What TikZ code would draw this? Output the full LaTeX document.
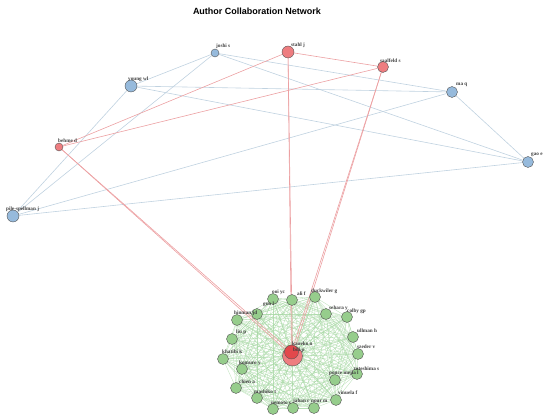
\documentclass[tikz,border=0pt]{standalone}
\usepackage{fontspec}
\setmainfont{Liberation Serif}
\newfontfamily\titlefont{Liberation Sans}
\usetikzlibrary{backgrounds}

\definecolor{bluenode}{RGB}{150,186,220}
\definecolor{rednode}{RGB}{238,125,128}
\definecolor{reddark}{RGB}{226,72,76}
\definecolor{greennode}{RGB}{150,205,140}
\definecolor{blueedge}{RGB}{192,210,224}
\definecolor{rededge}{RGB}{236,160,162}
\definecolor{greenedge}{RGB}{165,215,162}
\definecolor{outline}{RGB}{85,85,85}

\begin{document}
\begin{tikzpicture}[x=1pt, y=-1pt,
  author/.style={circle, draw=outline, line width=0.4pt, inner sep=0pt},
  lbl/.style={font=\fontsize{5.2}{6}\selectfont\bfseries, text=black!75, inner sep=0pt, anchor=west},
  bluelink/.style={draw=blueedge, line width=0.6pt},
  redlink/.style={draw=rededge, line width=0.6pt},
  greenlink/.style={draw=greenedge, line width=0.35pt, opacity=0.75}]

\useasboundingbox (0,0) rectangle (550,419);

\node [font=\titlefont\fontsize{9}{10}\selectfont\bfseries] (title) at (257,11) {Author Collaboration Network};

% top group
\node [author, fill=bluenode, minimum size=8pt] (joshi) at (215,53) {};
\node [author, fill=rednode, minimum size=12pt] (stahl) at (288,52) {};
\node [author, fill=rednode, minimum size=11pt] (saalfeld) at (383,67) {};
\node [author, fill=bluenode, minimum size=11pt] (ma) at (452,92) {};
\node [author, fill=bluenode, minimum size=11pt] (gao) at (528,162) {};
\node [author, fill=bluenode, minimum size=12pt] (young) at (131,86) {};
\node [author, fill=rednode, minimum size=8pt] (behme) at (59,147) {};
\node [author, fill=bluenode, minimum size=12pt] (pile) at (13,216) {};

% cluster
\node [author, fill=greennode, minimum size=11pt] (ooi) at (273,299) {};
\node [author, fill=greennode, minimum size=11pt] (ali) at (292,300) {};
\node [author, fill=greennode, minimum size=11pt] (duckwiler) at (315,297) {};
\node [author, fill=greennode, minimum size=11pt] (guo) at (257,314) {};
\node [author, fill=greennode, minimum size=11pt] (hinman) at (237,320) {};
\node [author, fill=greennode, minimum size=11pt] (sehara) at (326,314) {};
\node [author, fill=greennode, minimum size=11pt] (colby) at (347,317) {};
\node [author, fill=greennode, minimum size=11pt] (liu) at (232,339) {};
\node [author, fill=greennode, minimum size=11pt] (ullman) at (353,337) {};
\node [author, fill=greennode, minimum size=11pt] (khatibi) at (223,359) {};
\node [author, fill=greennode, minimum size=11pt] (komuro) at (242,369) {};
\node [author, fill=greennode, minimum size=11pt] (szeder) at (358,354) {};
\node [author, fill=greennode, minimum size=11pt] (tateshima) at (357,374) {};
\node [author, fill=greennode, minimum size=11pt] (ponce) at (335,380) {};
\node [author, fill=greennode, minimum size=11pt] (chien) at (236,388) {};
\node [author, fill=greennode, minimum size=11pt] (mashiko) at (257,398) {};
\node [author, fill=greennode, minimum size=11pt] (nemoto) at (273,409) {};
\node [author, fill=greennode, minimum size=11pt] (jahan) at (293,408) {};
\node [author, fill=greennode, minimum size=11pt] (nour) at (314,408) {};
\node [author, fill=greennode, minimum size=11pt] (vinuela) at (336,400) {};
\node [author, fill=rednode, minimum size=20pt] (bui) at (292.5,356) {};
\node [author, fill=reddark, minimum size=14pt] (kaneko) at (291.5,352) {};

% edges, behind the nodes
\begin{scope}[on background layer]
\foreach \a [count=\i] in {ooi,ali,duckwiler,guo,hinman,sehara,colby,liu,ullman,khatibi,komuro,szeder,tateshima,ponce,chien,mashiko,nemoto,jahan,nour,vinuela,bui,kaneko}
  \foreach \b [count=\j] in {ooi,ali,duckwiler,guo,hinman,sehara,colby,liu,ullman,khatibi,komuro,szeder,tateshima,ponce,chien,mashiko,nemoto,jahan,nour,vinuela,bui,kaneko}
    {\ifnum\j>\i \draw [greenlink] (\a.center) -- (\b.center); \fi}

\draw [bluelink] (joshi) -- (young);
\draw [bluelink] (joshi) -- (pile);
\draw [bluelink] (joshi) -- (ma);
\draw [bluelink] (joshi) -- (gao);
\draw [bluelink] (young) -- (pile);
\draw [bluelink] (young) -- (ma);
\draw [bluelink] (young) -- (gao);
\draw [bluelink] (pile) -- (ma);
\draw [bluelink] (pile) -- (gao);
\draw [bluelink] (ma) -- (gao);

\draw [redlink] (behme) -- (stahl);
\draw [redlink] (behme) -- (saalfeld);
\draw [redlink] (stahl) -- (saalfeld);
\draw [redlink] (behme.center) -- (kaneko.center);
\draw [redlink] (behme.center) -- (bui.center);
\draw [redlink] (stahl.center) -- (kaneko.center);
\draw [redlink] (stahl.center) -- (bui.center);
\draw [redlink] (saalfeld.center) -- (kaneko.center);
\draw [redlink] (saalfeld.center) -- (bui.center);
\end{scope}

% labels
\node [lbl] (joshi-l) at (216,46) {joshi s};
\node [lbl] (stahl-l) at (291,45) {stahl j};
\node [lbl] (saalfeld-l) at (380,61) {saalfeld s};
\node [lbl] (ma-l) at (456,85) {ma q};
\node [lbl] (gao-l) at (531,155) {gao e};
\node [lbl] (young-l) at (128,79) {young wl};
\node [lbl] (behme-l) at (58,141) {behme d};
\node [lbl] (pile-l) at (6,209) {pile-spellman j};

\node [lbl] (ooi-l) at (272,292) {ooi yc};
\node [lbl] (ali-l) at (297,294) {ali f};
\node [lbl] (duckwiler-l) at (311,291) {duckwiler g};
\node [lbl] (guo-l) at (263,304) {guo l};
\node [lbl] (hinman-l) at (234,313) {hinman jd};
\node [lbl] (sehara-l) at (329,308) {sehara y};
\node [lbl] (colby-l) at (347,311) {colby gp};
\node [lbl] (liu-l) at (236,332) {liu p};
\node [lbl] (ullman-l) at (357,331) {ullman h};
\node [lbl] (khatibi-l) at (222,352) {khatibi k};
\node [lbl] (komuro-l) at (239,363) {komuro y};
\node [lbl] (szeder-l) at (357,347) {szeder v};
\node [lbl] (tateshima-l) at (354,369) {tateshima s};
\node [lbl] (ponce-l) at (329,373) {ponce mejia l};
\node [lbl] (chien-l) at (239,382) {chien a};
\node [lbl] (mashiko-l) at (254,392) {mashiko t};
\node [lbl] (nemoto-l) at (271,403) {nemoto s};
\node [lbl] (jahan-l) at (293,401) {jahan r};
\node [lbl] (nour-l) at (311,401) {nour m};
\node [lbl] (vinuela-l) at (338,393) {vinuela f};
\node [lbl] (kaneko-l) at (292,343.5) {kaneko n};
\node [lbl] (bui-l) at (293,350.5) {bui p};

\end{tikzpicture}
\end{document}
